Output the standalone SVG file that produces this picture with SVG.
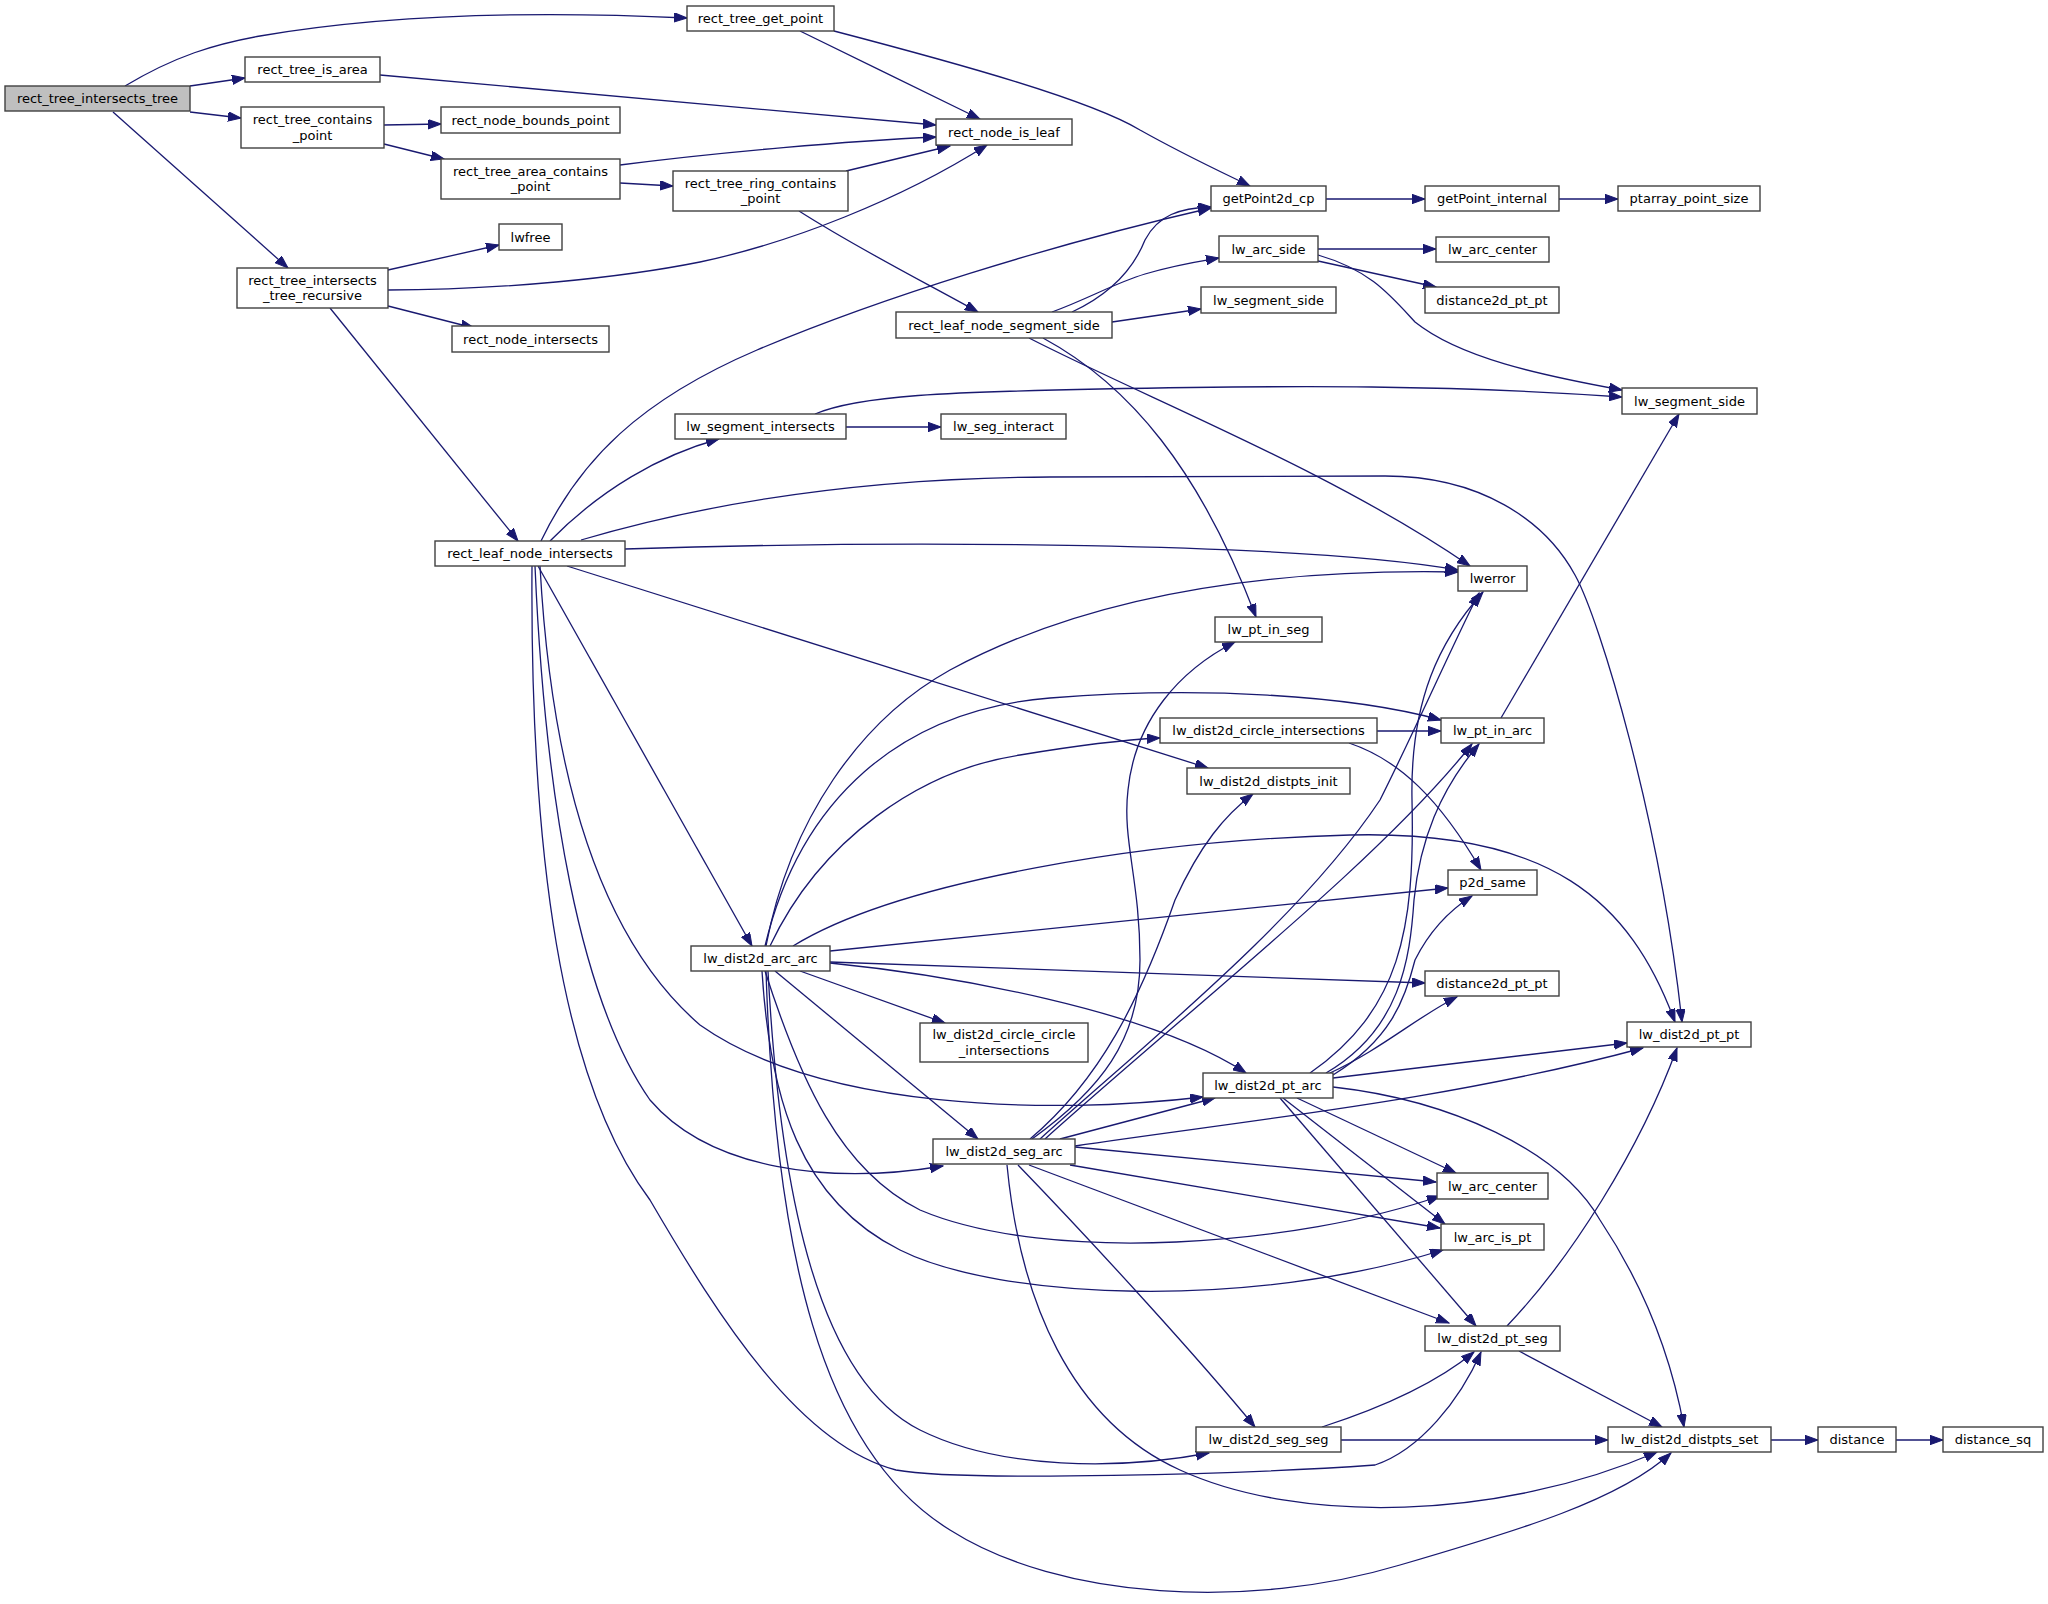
<svg xmlns="http://www.w3.org/2000/svg" width="2048" height="1604" viewBox="0 0 2048 1604">
<defs>
<style>
.n rect{fill:#ffffff;stroke:#404040;stroke-width:1.4}
.n.root rect{fill:#bfbfbf}
.n text{font-family:"DejaVu Sans","Liberation Sans",sans-serif;font-size:13px;fill:#000000;text-anchor:middle}
.e path{fill:none;stroke:#191970;stroke-width:1.3;marker-end:url(#ah)}
</style>
<marker id="ah" markerWidth="14" markerHeight="10" refX="13" refY="4.7" orient="auto" markerUnits="userSpaceOnUse">
<path d="M0,0 L13,4.7 L0,9.4 z" fill="#191970" stroke="#191970" stroke-width="1"/>
</marker>
</defs>
<rect x="0" y="0" width="2048" height="1604" fill="#ffffff"/>
<g id="connectors" class="e">
<path d="M125,86 C175,56 215,44 260,36 C400,12 560,12 687,18"/>
<path d="M190,86 L245,78"/>
<path d="M190,112 L241,118"/>
<path d="M113,112 L288,268"/>
<path d="M800,31 C850,55 940,100 980,119"/>
<path d="M834,31 C960,64 1090,100 1140,130 C1190,158 1230,176 1250,186"/>
<path d="M380,75 L936,125"/>
<path d="M384,125 L441,124"/>
<path d="M384,144 L444,159"/>
<path d="M620,165 C720,152 850,141 936,137"/>
<path d="M620,183 L673,186"/>
<path d="M846,171 L950,146"/>
<path d="M799,211 C860,250 930,285 978,312"/>
<path d="M388,270 L499,245"/>
<path d="M388,290 C500,290 620,278 700,262 C790,243 900,200 987,145"/>
<path d="M388,306 L474,328"/>
<path d="M330,308 L518,541"/>
<path d="M1326,199 L1425,199"/>
<path d="M1559,199 L1618,199"/>
<path d="M1318,249 L1436,249"/>
<path d="M1318,261 L1436,287"/>
<path d="M1318,255 C1370,270 1390,295 1415,322 C1460,358 1540,375 1622,390"/>
<path d="M1072,312 C1115,292 1135,265 1145,240 C1158,215 1180,208 1211,207"/>
<path d="M1052,312 C1090,298 1115,283 1145,274 C1175,265 1195,262 1219,258"/>
<path d="M1112,322 L1201,309"/>
<path d="M1029,338 C1150,400 1330,470 1470,566"/>
<path d="M1043,338 C1130,385 1200,470 1256,617"/>
<path d="M541,541 C580,460 640,400 757,350 C880,298 1050,245 1211,208"/>
<path d="M550,541 C600,490 660,455 719,439"/>
<path d="M581,540 C700,505 850,478 1050,477 L1385,476 C1480,476 1545,520 1575,575 C1600,620 1660,820 1682,1022"/>
<path d="M625,549 C900,540 1300,542 1458,570"/>
<path d="M567,566 L1208,768"/>
<path d="M538,566 L752,946"/>
<path d="M540,566 C550,750 590,930 700,1025 C820,1110 1050,1115 1203,1097"/>
<path d="M535,566 C545,800 580,1000 650,1100 C710,1170 830,1185 943,1166"/>
<path d="M532,566 C530,850 560,1080 650,1200 C720,1320 800,1445 896,1470 C960,1482 1250,1474 1375,1465 C1420,1450 1460,1400 1481,1352"/>
<path d="M846,427 L941,427"/>
<path d="M815,414 C860,395 950,392 1100,389 C1300,385 1450,385 1622,397"/>
<path d="M766,946 C790,820 860,720 950,670 C1080,600 1250,568 1458,572"/>
<path d="M765,946 C800,800 900,710 1050,698 C1200,686 1350,695 1441,720"/>
<path d="M770,946 C820,840 920,770 1020,755 C1080,745 1120,740 1160,738"/>
<path d="M793,946 C900,880 1150,840 1350,835 C1550,830 1630,900 1675,1022"/>
<path d="M830,951 L1448,888"/>
<path d="M830,962 L1425,983"/>
<path d="M830,963 C950,975 1150,1010 1246,1073"/>
<path d="M800,971 L945,1023"/>
<path d="M775,971 L978,1139"/>
<path d="M765,971 C800,1080 840,1170 920,1210 C1050,1265 1300,1245 1440,1196"/>
<path d="M762,971 C770,1100 800,1200 900,1250 C1000,1300 1250,1310 1443,1250"/>
<path d="M768,971 C780,1200 820,1380 920,1430 C1000,1470 1120,1470 1209,1453"/>
<path d="M766,971 C775,1250 820,1450 950,1530 C1060,1600 1250,1610 1400,1565 C1520,1530 1620,1500 1671,1453"/>
<path d="M1377,731 L1441,731"/>
<path d="M1349,743 C1400,760 1440,800 1481,870"/>
<path d="M1501,718 L1679,414"/>
<path d="M1310,1073 C1400,1010 1415,930 1412,800 C1410,700 1440,640 1483,592"/>
<path d="M1326,1073 C1400,1030 1410,960 1414,900 C1420,840 1440,790 1479,744"/>
<path d="M1333,1075 C1390,1040 1405,1000 1415,960 C1430,930 1450,910 1472,896"/>
<path d="M1330,1073 C1380,1050 1420,1015 1457,997"/>
<path d="M1333,1078 L1627,1043"/>
<path d="M1297,1098 L1456,1173"/>
<path d="M1283,1098 L1445,1224"/>
<path d="M1280,1098 L1476,1326"/>
<path d="M1333,1087 C1450,1100 1560,1150 1600,1220 C1640,1280 1670,1350 1684,1427"/>
<path d="M1032,1139 C1100,1090 1140,1040 1140,960 C1140,880 1122,840 1128,790 C1135,720 1180,670 1235,642"/>
<path d="M1040,1139 C1150,1040 1300,920 1380,800 C1420,720 1450,650 1479,593"/>
<path d="M1045,1139 C1200,1000 1380,860 1472,744"/>
<path d="M1030,1139 C1100,1080 1140,1000 1175,900 C1200,845 1225,815 1253,794"/>
<path d="M1060,1139 L1215,1098"/>
<path d="M1075,1146 C1250,1120 1450,1100 1643,1048"/>
<path d="M1075,1147 L1436,1182"/>
<path d="M1070,1165 L1440,1228"/>
<path d="M1029,1165 L1449,1323"/>
<path d="M1018,1165 C1100,1250 1200,1360 1255,1427"/>
<path d="M1007,1165 C1020,1300 1070,1420 1180,1470 C1300,1525 1500,1520 1657,1452"/>
<path d="M1507,1326 C1570,1260 1640,1150 1677,1048"/>
<path d="M1519,1351 L1662,1427"/>
<path d="M1322,1427 C1390,1405 1440,1380 1474,1352"/>
<path d="M1341,1440 L1608,1440"/>
<path d="M1771,1440 L1818,1440"/>
<path d="M1896,1440 L1943,1440"/>
</g>
<g id="node-rect_tree_intersects_tree" class="n root"><rect x="5" y="86" width="185" height="25"/><text x="97.5" y="103">rect_tree_intersects_tree</text></g>
<g id="node-rect_tree_get_point" class="n"><rect x="687" y="6" width="147" height="25"/><text x="760.5" y="23">rect_tree_get_point</text></g>
<g id="node-rect_tree_is_area" class="n"><rect x="245" y="57" width="135" height="25"/><text x="312.5" y="74">rect_tree_is_area</text></g>
<g id="node-rect_tree_contains_point" class="n"><rect x="241" y="107" width="143" height="41"/><text x="312.5" y="124">rect_tree_contains</text><text x="312.5" y="139.5">_point</text></g>
<g id="node-rect_node_bounds_point" class="n"><rect x="441" y="107" width="179" height="26"/><text x="530.5" y="124.5">rect_node_bounds_point</text></g>
<g id="node-rect_tree_area_contains_point" class="n"><rect x="441" y="159" width="179" height="40"/><text x="530.5" y="175.5">rect_tree_area_contains</text><text x="530.5" y="191">_point</text></g>
<g id="node-rect_node_is_leaf" class="n"><rect x="936" y="119" width="136" height="26"/><text x="1004" y="136.5">rect_node_is_leaf</text></g>
<g id="node-rect_tree_ring_contains_point" class="n"><rect x="673" y="171" width="175" height="40"/><text x="760.5" y="187.5">rect_tree_ring_contains</text><text x="760.5" y="203">_point</text></g>
<g id="node-getPoint2d_cp" class="n"><rect x="1211" y="186" width="115" height="25"/><text x="1268.5" y="203">getPoint2d_cp</text></g>
<g id="node-getPoint_internal" class="n"><rect x="1425" y="186" width="134" height="25"/><text x="1492" y="203">getPoint_internal</text></g>
<g id="node-ptarray_point_size" class="n"><rect x="1618" y="186" width="142" height="25"/><text x="1689" y="203">ptarray_point_size</text></g>
<g id="node-lwfree" class="n"><rect x="499" y="224" width="63" height="26"/><text x="530.5" y="241.5">lwfree</text></g>
<g id="node-rect_tree_intersects_tree_recursive" class="n"><rect x="237" y="268" width="151" height="40"/><text x="312.5" y="284.5">rect_tree_intersects</text><text x="312.5" y="300">_tree_recursive</text></g>
<g id="node-lw_arc_side" class="n"><rect x="1219" y="236" width="99" height="26"/><text x="1268.5" y="253.5">lw_arc_side</text></g>
<g id="node-lw_arc_center_1" class="n"><rect x="1436" y="237" width="113" height="25"/><text x="1492.5" y="254">lw_arc_center</text></g>
<g id="node-distance2d_pt_pt_1" class="n"><rect x="1425" y="287" width="134" height="26"/><text x="1492" y="304.5">distance2d_pt_pt</text></g>
<g id="node-lw_segment_side_1" class="n"><rect x="1201" y="287" width="135" height="26"/><text x="1268.5" y="304.5">lw_segment_side</text></g>
<g id="node-rect_leaf_node_segment_side" class="n"><rect x="896" y="312" width="216" height="26"/><text x="1004" y="329.5">rect_leaf_node_segment_side</text></g>
<g id="node-rect_node_intersects" class="n"><rect x="452" y="326" width="157" height="26"/><text x="530.5" y="343.5">rect_node_intersects</text></g>
<g id="node-lw_segment_side_2" class="n"><rect x="1622" y="388" width="135" height="26"/><text x="1689.5" y="405.5">lw_segment_side</text></g>
<g id="node-lw_segment_intersects" class="n"><rect x="675" y="414" width="171" height="25"/><text x="760.5" y="431">lw_segment_intersects</text></g>
<g id="node-lw_seg_interact" class="n"><rect x="941" y="414" width="125" height="25"/><text x="1003.5" y="431">lw_seg_interact</text></g>
<g id="node-rect_leaf_node_intersects" class="n"><rect x="435" y="541" width="190" height="25"/><text x="530" y="558">rect_leaf_node_intersects</text></g>
<g id="node-lwerror" class="n"><rect x="1458" y="566" width="69" height="25"/><text x="1492.5" y="583">lwerror</text></g>
<g id="node-lw_pt_in_seg" class="n"><rect x="1215" y="617" width="107" height="25"/><text x="1268.5" y="634">lw_pt_in_seg</text></g>
<g id="node-lw_dist2d_circle_intersections" class="n"><rect x="1160" y="718" width="217" height="25"/><text x="1268.5" y="735">lw_dist2d_circle_intersections</text></g>
<g id="node-lw_pt_in_arc" class="n"><rect x="1441" y="718" width="103" height="25"/><text x="1492.5" y="735">lw_pt_in_arc</text></g>
<g id="node-lw_dist2d_distpts_init" class="n"><rect x="1187" y="768" width="163" height="26"/><text x="1268.5" y="785.5">lw_dist2d_distpts_init</text></g>
<g id="node-p2d_same" class="n"><rect x="1448" y="870" width="89" height="25"/><text x="1492.5" y="887">p2d_same</text></g>
<g id="node-lw_dist2d_arc_arc" class="n"><rect x="691" y="946" width="139" height="25"/><text x="760.5" y="963">lw_dist2d_arc_arc</text></g>
<g id="node-distance2d_pt_pt_2" class="n"><rect x="1425" y="971" width="134" height="25"/><text x="1492" y="988">distance2d_pt_pt</text></g>
<g id="node-lw_dist2d_circle_circle_intersections" class="n"><rect x="920" y="1023" width="168" height="39"/><text x="1004" y="1039">lw_dist2d_circle_circle</text><text x="1004" y="1054.5">_intersections</text></g>
<g id="node-lw_dist2d_pt_pt" class="n"><rect x="1627" y="1022" width="124" height="25"/><text x="1689" y="1039">lw_dist2d_pt_pt</text></g>
<g id="node-lw_dist2d_pt_arc" class="n"><rect x="1203" y="1073" width="130" height="25"/><text x="1268" y="1090">lw_dist2d_pt_arc</text></g>
<g id="node-lw_dist2d_seg_arc" class="n"><rect x="933" y="1139" width="142" height="25"/><text x="1004" y="1156">lw_dist2d_seg_arc</text></g>
<g id="node-lw_arc_center_2" class="n"><rect x="1437" y="1173" width="111" height="26"/><text x="1492.5" y="1190.5">lw_arc_center</text></g>
<g id="node-lw_arc_is_pt" class="n"><rect x="1441" y="1224" width="103" height="26"/><text x="1492.5" y="1241.5">lw_arc_is_pt</text></g>
<g id="node-lw_dist2d_pt_seg" class="n"><rect x="1425" y="1326" width="135" height="25"/><text x="1492.5" y="1343">lw_dist2d_pt_seg</text></g>
<g id="node-lw_dist2d_seg_seg" class="n"><rect x="1196" y="1427" width="145" height="25"/><text x="1268.5" y="1444">lw_dist2d_seg_seg</text></g>
<g id="node-lw_dist2d_distpts_set" class="n"><rect x="1608" y="1427" width="163" height="25"/><text x="1689.5" y="1444">lw_dist2d_distpts_set</text></g>
<g id="node-distance" class="n"><rect x="1818" y="1427" width="78" height="25"/><text x="1857" y="1444">distance</text></g>
<g id="node-distance_sq" class="n"><rect x="1943" y="1427" width="100" height="25"/><text x="1993" y="1444">distance_sq</text></g>
</svg>
